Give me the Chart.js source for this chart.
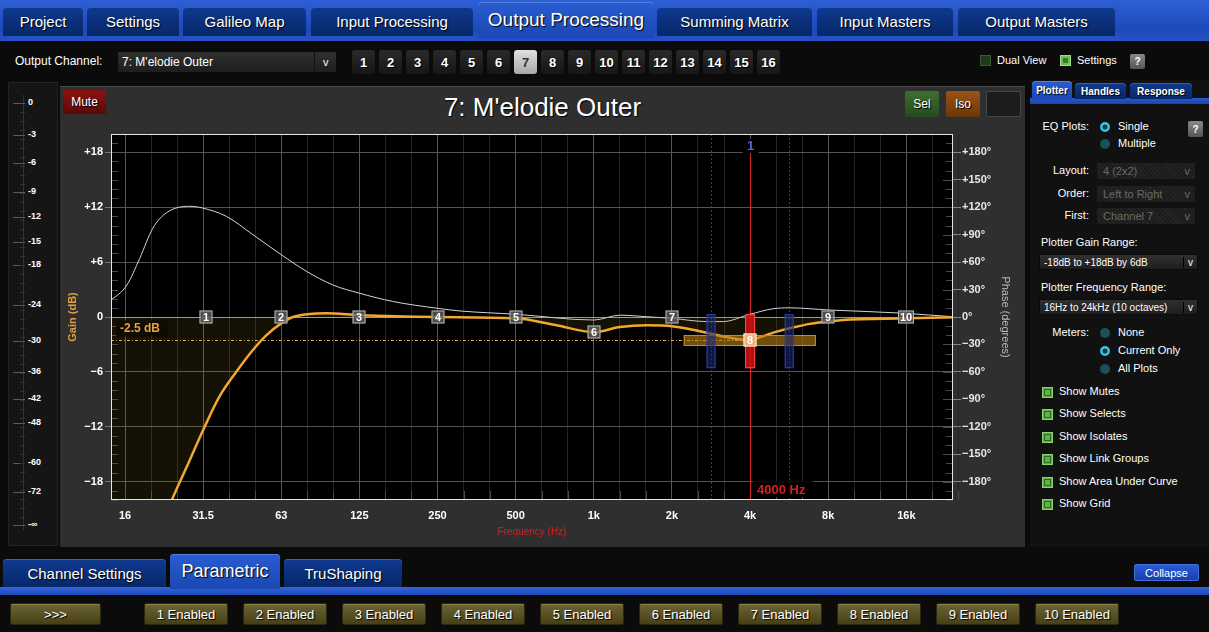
<!DOCTYPE html>
<html>
<head>
<meta charset="utf-8">
<script src="https://cdn.jsdelivr.net/npm/chart.js@4.4.1/dist/chart.umd.min.js"></script>
<style>
body{margin:0;background:#0b0b0b;width:1209px;height:632px;overflow:hidden;position:relative;font-family:'Liberation Sans',Arial,sans-serif;color:#fff}
.c{display:flex;align-items:center;justify-content:center;box-sizing:border-box}
.tab{background:linear-gradient(#0f3a90,#072768);border-radius:4px 4px 0 0;box-shadow:inset 0 1px 0 #2f5fc8;text-shadow:1px 1px 1px #000}
.tabOn{background:linear-gradient(#2a5cd0,#1a48b4);border-radius:4px 4px 0 0;box-shadow:inset 0 1px 0 #5080e0;text-shadow:1px 1px 1px #000}
.num{background:linear-gradient(#2a2a2a,#161616);border-radius:3px;font-size:13px;font-weight:bold;text-shadow:1px 1px 0 #000}
.drop{background:linear-gradient(#303030,#1e1e1e);border:1px solid #0a0a0a;font-size:12px;padding-left:4px;justify-content:flex-start}
.dis{background:repeating-linear-gradient(45deg,#262626 0 1px,#1c1c1c 1px 3px);color:#6a6a6a;font-size:11px;padding-left:6px;justify-content:flex-start}
.lbl{position:absolute;font-size:11px;white-space:nowrap}
.olive{background:linear-gradient(#6c6434,#474016);border:1px solid #2b2810;border-radius:2px;font-size:13px;text-shadow:1px 1px 1px #000;box-shadow:inset 0 1px 0 #8a8248}
</style>
</head>
<body>
<canvas id="eq" width="960" height="425" style="position:absolute;left:62px;top:120px;z-index:2"></canvas>
<script>
// ---- data ----
const gainFreqs = [12, 18, 23.6, 27, 31.2, 36.1, 41.9, 48.6, 54.7, 62.5, 69.3, 80.4, 93.3, 125, 250, 500, 718, 1000, 1260, 1600, 2000, 2410, 2800, 3250, 4000, 4370, 5070, 5840, 6800, 8000, 9110, 16000, 26000];
const gainDb = [-43, -29, -20.1, -16.4, -12.4, -8.7, -6.0, -3.6, -2.0, -0.7, 0, 0.33, 0.4, 0.2, 0, -0.15, -0.9, -1.65, -1.1, -0.9, -1.0, -1.4, -1.8, -2.2, -2.55, -2.2, -1.6, -1.15, -0.75, -0.5, -0.33, -0.15, 0];
const phaseFreqs = [12, 13.8, 15.9, 17.8, 20.0, 22.6, 27.7, 31.2, 38.4, 48.6, 62.5, 78.1, 98.8, 125, 168, 250, 305, 500, 1000, 1260, 1600, 2000, 2720, 3140, 4000, 4900, 5690, 8000, 16000, 24200, 26000];
const phaseDeg = [8, 18.6, 35, 64, 97, 114, 121, 119, 110, 90, 68, 50, 35, 26, 17, 9.5, 6.6, 3, -3.3, 2, 0.3, -1.5, -5, -5, 3, 9, 10, 7.7, 4, 0.3, 0];

const octaveTicks = [15.625, 31.25, 62.5, 125, 250, 500, 1000, 2000, 4000, 8000, 16000];
const octaveLabels = ['16', '31.5', '63', '125', '250', '500', '1k', '2k', '4k', '8k', '16k'];
const gainTicks = [-18, -12, -6, 0, 6, 12, 18];
const phaseTicks = [-180, -150, -120, -90, -60, -30, 0, 30, 60, 90, 120, 150, 180];

const handleFreqs = [32, 62.5, 125, 250, 500, 1000, 2000, 4000, 8000, 16000];
const handleGains = [0, 0, 0, 0, 0, -1.65, 0, -2.5, 0, 0];
const selHandle = 8;
const selFreq = 4000;
const selGain = -2.5;
const bandEdges = [2830, 5660];
const widthBar = [2220, 7170];
const meterRange = [0.3, -5.6];

// 1/3 octave minors between the octave ticks
const xTickValues = [];
octaveTicks.forEach(o => { xTickValues.push(o, o * Math.pow(2, 1/3), o * Math.pow(2, 2/3)); });
const isMajor = v => octaveTicks.some(o => Math.abs(o - v) / o < 1e-6);
const minus = v => v > 0 ? '+' + v : v < 0 ? '\u2212' + Math.abs(v) : '0';

const eqOverlay = {
    id: 'eqOverlay',
    beforeDraw(chart) {
        const {ctx, chartArea: a} = chart;
        ctx.save();
        ctx.fillStyle = '#000';
        ctx.fillRect(a.left, a.top, a.right - a.left, a.bottom - a.top);
        ctx.restore();
    },
    beforeDatasetsDraw(chart) {
        const {ctx, chartArea: a, scales: {x, y, y2}} = chart;
        ctx.save();
        ctx.lineWidth = 1;
        ctx.strokeStyle = '#4a4a4a';
        ctx.beginPath();
        for (let g = -20; g <= 20; g++) {
            if (g % 6 === 0) continue;
            const py = Math.round(y.getPixelForValue(g)) + 0.5;
            ctx.moveTo(a.left, py); ctx.lineTo(a.left + 7, py);
        }
        for (let p = -200; p <= 200; p += 10) {
            const py = Math.round(y2.getPixelForValue(p)) + 0.5;
            const len = p % 30 === 0 ? 10 : 7;
            ctx.moveTo(a.right - len, py); ctx.lineTo(a.right, py);
        }
        xTickValues.forEach(v => {
            if (isMajor(v)) return;
            const px = Math.round(x.getPixelForValue(v)) + 0.5;
            ctx.moveTo(px, a.bottom - 9); ctx.lineTo(px, a.bottom);
        });
        ctx.stroke();

        // bandwidth edges
        ctx.strokeStyle = '#2e3c9c';
        ctx.setLineDash([2, 2]);
        bandEdges.forEach(f => {
            const px = Math.round(x.getPixelForValue(f)) + 0.5;
            ctx.beginPath(); ctx.moveTo(px, a.top); ctx.lineTo(px, a.bottom); ctx.stroke();
        });
        ctx.setLineDash([]);

        // selected frequency cursor
        const sx = Math.round(x.getPixelForValue(selFreq)) + 0.5;
        ctx.strokeStyle = '#d42a2a';
        ctx.beginPath(); ctx.moveTo(sx, a.top + 18); ctx.lineTo(sx, a.bottom); ctx.stroke();
        ctx.fillStyle = '#000';
        ctx.fillRect(sx - 8, a.top + 5, 16, 14);
        ctx.fillStyle = '#5566dd';
        ctx.font = 'bold 13px "Liberation Sans"';
        ctx.textAlign = 'center'; ctx.textBaseline = 'middle';
        ctx.fillText('1', sx, a.top + 12);
        ctx.restore();
    },
    afterDatasetsDraw(chart) {
        const {ctx, chartArea: a, scales: {x, y}} = chart;
        ctx.save();
        const sx = x.getPixelForValue(selFreq);
        const gy = Math.round(y.getPixelForValue(selGain)) + 0.5;

        // level line
        ctx.strokeStyle = 'rgba(240,180,110,0.9)';
        ctx.setLineDash([3, 2, 1, 2]);
        ctx.beginPath(); ctx.moveTo(a.left, gy); ctx.lineTo(sx, gy); ctx.stroke();
        ctx.setLineDash([]);

        // width bar
        const wx0 = x.getPixelForValue(widthBar[0]), wx1 = x.getPixelForValue(widthBar[1]);
        ctx.fillStyle = 'rgba(190,130,20,0.6)';
        ctx.strokeStyle = '#c88a28';
        ctx.fillRect(wx0, gy - 5.5, wx1 - wx0, 11);
        ctx.strokeRect(wx0 + 0.5, gy - 5, wx1 - wx0 - 1, 10);

        // meter bars
        const my0 = y.getPixelForValue(meterRange[0]), my1 = y.getPixelForValue(meterRange[1]);
        bandEdges.forEach(f => {
            const px = x.getPixelForValue(f);
            ctx.fillStyle = 'rgba(22,36,115,0.6)';
            ctx.strokeStyle = '#2e44a8';
            ctx.fillRect(px - 4.5, my0, 9, my1 - my0);
            ctx.strokeRect(px - 4, my0 + 0.5, 8, my1 - my0 - 1);
        });
        ctx.fillStyle = 'rgba(200,18,18,0.88)';
        ctx.strokeStyle = '#ff4a4a';
        ctx.fillRect(sx - 5, my0, 10, my1 - my0);
        ctx.strokeRect(sx - 4.5, my0 + 0.5, 9, my1 - my0 - 1);

        // handles
        ctx.font = 'bold 11px "Liberation Sans"';
        ctx.textAlign = 'center'; ctx.textBaseline = 'middle';
        handleFreqs.forEach((f, i) => {
            const n = i + 1;
            const px = Math.round(x.getPixelForValue(f));
            const py = Math.round(y.getPixelForValue(handleGains[i]));
            const w = n >= 10 ? 16 : 13;
            ctx.fillStyle = n === selHandle ? 'rgba(240,185,130,0.95)' : 'rgba(95,95,95,0.8)';
            ctx.strokeStyle = n === selHandle ? '#fff0e0' : 'rgba(200,200,200,0.85)';
            ctx.fillRect(px - w / 2, py - 6.5, w, 13);
            ctx.strokeRect(px - w / 2 + 0.5, py - 6, w - 1, 12);
            ctx.fillStyle = '#fff';
            ctx.fillText(String(n), px, py + 0.5);
        });

        // gain readout
        ctx.fillStyle = 'rgba(14,11,3,0.92)';
        ctx.fillRect(a.left + 5, gy - 20, 52, 16);
        ctx.fillStyle = '#e8a040';
        ctx.font = 'bold 12px "Liberation Sans"';
        ctx.textAlign = 'left';
        ctx.fillText('-2.5 dB', a.left + 9, gy - 12);

        // frequency readout
        ctx.fillStyle = 'rgba(0,0,0,0.85)';
        ctx.fillRect(sx + 3, a.bottom - 19, 60, 16);
        ctx.fillStyle = '#d42020';
        ctx.font = 'bold 13px "Liberation Sans"';
        ctx.fillText(selFreq + ' Hz', sx + 7, a.bottom - 10);

        // frame
        ctx.strokeStyle = '#e6e6e6';
        ctx.strokeRect(a.left + 0.5, a.top + 0.5, a.right - a.left - 1, a.bottom - a.top - 1);
        ctx.restore();
    }
};

new Chart(document.getElementById('eq'), {
    type: 'line',
    data: {
        datasets: [
            {
                label: 'Gain',
                data: gainFreqs.map((f, i) => ({x: f, y: gainDb[i]})),
                yAxisID: 'y',
                borderColor: '#f0a830',
                borderWidth: 2.5,
                backgroundColor: 'rgba(150,120,30,0.14)',
                fill: 'origin',
                pointRadius: 0,
                cubicInterpolationMode: 'monotone'
            },
            {
                label: 'Phase',
                data: phaseFreqs.map((f, i) => ({x: f, y: phaseDeg[i]})),
                yAxisID: 'y2',
                borderColor: '#d6d6d6',
                borderWidth: 1,
                fill: false,
                pointRadius: 0,
                cubicInterpolationMode: 'monotone'
            }
        ]
    },
    options: {
        responsive: false,
        animation: false,
        events: [],
        layout: {padding: {top: 14, left: 0, right: 0, bottom: 0}},
        plugins: {legend: {display: false}, tooltip: {enabled: false}},
        scales: {
            x: {
                type: 'logarithmic',
                min: 13.8,
                max: 24200,
                afterBuildTicks: s => { s.ticks = xTickValues.map(v => ({value: v})); },
                afterFit: s => { s.height = 45; },
                border: {display: false},
                grid: {
                    color: c => c.tick && isMajor(c.tick.value) ? '#575757' : '#242424',
                    drawTicks: false
                },
                ticks: {
                    autoSkip: false,
                    maxRotation: 0,
                    padding: 9,
                    color: '#fff',
                    font: {family: 'Liberation Sans', size: 11, weight: 'bold'},
                    callback: v => {
                        const i = octaveTicks.findIndex(o => Math.abs(o - v) / o < 1e-6);
                        return i >= 0 ? octaveLabels[i] : '';
                    }
                },
                title: {
                    display: true,
                    text: 'Frequency (Hz)',
                    color: '#d42020',
                    font: {family: 'Liberation Sans', size: 10},
                    padding: {top: 0, bottom: 7}
                }
            },
            y: {
                position: 'left',
                min: -20,
                max: 20,
                afterBuildTicks: s => { s.ticks = gainTicks.map(v => ({value: v})); },
                afterFit: s => { s.width = 49; },
                border: {display: false},
                grid: {
                    color: c => c.tick && c.tick.value === 0 ? 'rgba(235,205,160,0.75)' : '#555',
                    tickColor: '#777',
                    tickLength: 6
                },
                ticks: {
                    padding: 2,
                    color: '#fff',
                    font: {family: 'Liberation Sans', size: 11, weight: 'bold'},
                    callback: v => minus(v)
                },
                title: {
                    display: true,
                    text: 'Gain (dB)',
                    color: '#e0a040',
                    font: {family: 'Liberation Sans', size: 11, weight: 'bold'},
                    padding: {top: 4, bottom: 0}
                }
            },
            y2: {
                position: 'right',
                min: -200,
                max: 200,
                afterBuildTicks: s => { s.ticks = phaseTicks.map(v => ({value: v})); },
                afterFit: s => { s.width = 69; },
                border: {display: false},
                grid: {drawOnChartArea: false, tickColor: '#888', tickLength: 8},
                ticks: {
                    padding: 1,
                    color: '#e8e8e8',
                    font: {family: 'Liberation Sans', size: 11, weight: 'bold'},
                    callback: v => minus(v) + '\u00b0'
                },
                title: {
                    display: true,
                    text: 'Phase (degrees)',
                    color: '#b8b8b8',
                    font: {family: 'Liberation Sans', size: 11},
                    padding: {top: 10, bottom: 0}
                }
            }
        }
    },
    plugins: [eqOverlay]
});

// ---- surrounding app chrome ----
function box(x, y, w, h, cls, css, html) {
    const d = document.createElement('div');
    d.className = 'c ' + (cls || '');
    d.style.cssText = `position:absolute;left:${x}px;top:${y}px;width:${w}px;height:${h}px;` + (css || '');
    if (html != null) d.innerHTML = html;
    document.body.appendChild(d);
    return d;
}
function lbl(x, y, s, css) {
    const d = document.createElement('div');
    d.className = 'lbl';
    d.style.cssText = `left:${x}px;top:${y - 7}px;` + (css || '');
    d.textContent = s;
    document.body.appendChild(d);
    return d;
}

// top tab bar
box(0, 0, 1209, 41, '', 'background:linear-gradient(#2e5fd6,#1c4ab8 70%,#2752c8);');
const topTabs = [['Project', 3, 83], ['Settings', 87, 179], ['Galileo Map', 183, 306], ['Input Processing', 311, 473],
    ['Summing Matrix', 657, 812], ['Input Masters', 817, 953], ['Output Masters', 958, 1115]];
topTabs.forEach(t => box(t[1], 7, t[2] - t[1], 29, 'tab', 'font-size:15px;', t[0]));
box(478, 2, 176, 36, 'tabOn', 'font-size:19px;', 'Output Processing');

// channel row
lbl(15, 61, 'Output Channel:', 'font-size:12px;');
box(117, 51, 220, 22, 'drop', '', "7: M'elodie Outer<span style='position:absolute;left:196px;top:0;height:20px;border-left:1px solid #111;padding-left:8px;line-height:20px;font-size:11px'>v</span>");
for (let i = 1; i <= 16; i++) {
    const x = 352 + (i - 1) * 27;
    box(x, 50, 23, 24, 'num', i === 7 ? 'background:linear-gradient(#e0e0e0,#a8a8a8);color:#333;text-shadow:none;' : '', String(i));
}
box(980, 55, 11, 11, '', 'background:#1f3a18;border:1px solid #3a5a30;');
lbl(997, 61, 'Dual View', 'font-size:11px;');
box(1060, 55, 11, 11, '', 'background:#6cbf52;border:1px solid #9ae080;', "<div style='width:5px;height:5px;background:#3a7a2a'></div>");
lbl(1077, 61, 'Settings', 'font-size:11px;');
box(1130, 54, 15, 15, '', 'background:linear-gradient(#888,#555);font-size:10px;font-weight:bold;border-radius:2px;', '?');

// chart panel
box(60, 86, 965, 461, '', 'background:#2f2f2f;border-top:1px solid #4a4a4a;');
box(60, 95, 965, 25, '', 'font-size:26px;text-shadow:1px 1px 1px #000;', "7: M'elodie Outer");
box(63, 90, 43, 24, '', 'background:linear-gradient(#8c1212,#5c0808);border-radius:2px;font-size:12px;text-shadow:1px 1px 0 #000;', 'Mute');
box(905, 91, 34, 26, '', 'background:linear-gradient(#3d7030,#264a1c);border-radius:2px;font-size:12px;text-shadow:1px 1px 0 #000;', 'Sel');
box(946, 91, 34, 26, '', 'background:linear-gradient(#9a5418,#6a3808);border-radius:2px;font-size:12px;text-shadow:1px 1px 0 #000;', 'Iso');
box(986, 91, 35, 26, '', 'background:#1c1c1c;border:1px solid #484848;border-radius:2px;');

// left meter strip
box(8, 82, 50, 464, '', 'background:#151515;border:1px solid #222;');
box(23, 95, 1, 435, '', 'background:#333;');
const meterMarks = [['0', 103], ['-3', 135], ['-6', 163], ['-9', 192], ['-12', 217], ['-15', 242], ['-18', 265], ['-24', 305],
    ['-30', 341], ['-36', 372], ['-42', 399], ['-48', 423], ['-60', 463], ['-72', 492], ['-\u221e', 525]];
meterMarks.forEach(m => {
    box(13, m[1], 12, 1, '', 'background:#5a5a5a;');
    lbl(28, m[1] + 1, m[0], 'font-size:9px;font-weight:bold;');
});
for (let yy = 112; yy < 522; yy += 9) box(20, yy, 5, 1, '', 'background:#333;');

// right settings panel
box(1030, 80, 179, 467, '', 'background:#111;');
box(1030, 98, 179, 6, '', 'background:linear-gradient(#2a5ad2,#1a44a8);');
box(1032, 81, 40, 19, 'tabOn', 'font-size:10px;font-weight:bold;', 'Plotter');
box(1075, 83, 51, 16, 'tab', 'font-size:10px;font-weight:bold;', 'Handles');
box(1130, 83, 62, 16, 'tab', 'font-size:10px;font-weight:bold;', 'Response');
const radio = on => on ? 'background:radial-gradient(#0d3a44 30%,#36c0e0 40%);border-radius:50%;' : 'background:#1a5058;border-radius:50%;';
lbl(1042, 127, 'EQ Plots:', 'font-size:11px;width:47px;text-align:right;');
box(1100, 122, 10, 10, '', radio(true)); lbl(1118, 127, 'Single');
box(1100, 139, 10, 10, '', radio(false)); lbl(1118, 144, 'Multiple');
box(1188, 121, 15, 16, '', 'background:linear-gradient(#888,#555);font-size:10px;font-weight:bold;border-radius:2px;', '?');
[['Layout:', 171, '4 (2x2)'], ['Order:', 194, 'Left to Right'], ['First:', 216, 'Channel 7']].forEach(r => {
    lbl(1030, r[1], r[0], 'font-size:11px;width:59px;text-align:right;');
    box(1097, r[1] - 8, 98, 16, 'dis', '', r[2] + "<span style='position:absolute;right:5px'>v</span>");
});
lbl(1041, 243, 'Plotter Gain Range:');
box(1039, 254, 159, 16, 'drop', 'font-size:10px;', "-18dB to +18dB by 6dB<span style='position:absolute;right:4px;border-left:1px solid #000;padding-left:4px'>v</span>");
lbl(1041, 288, 'Plotter Frequency Range:');
box(1039, 299, 159, 16, 'drop', 'font-size:10px;', "16Hz to 24kHz (10 octaves)<span style='position:absolute;right:4px;border-left:1px solid #000;padding-left:4px'>v</span>");
lbl(1042, 333, 'Meters:', 'font-size:11px;width:47px;text-align:right;');
[['None', 333, false], ['Current Only', 351, true], ['All Plots', 369, false]].forEach(r => {
    box(1100, r[1] - 5, 10, 10, '', radio(r[2])); lbl(1118, r[1], r[0]);
});
['Show Mutes', 'Show Selects', 'Show Isolates', 'Show Link Groups', 'Show Area Under Curve', 'Show Grid'].forEach((s, i) => {
    const yy = [392, 414, 437, 459, 482, 504][i];
    box(1042, yy - 5, 11, 11, '', 'background:#62b04c;border:1px solid #8ad070;', "<div style='width:5px;height:5px;border:1px solid #2e6a22'></div>");
    lbl(1059, yy, s);
});

// bottom tabs and buttons
box(0, 587, 1209, 8, '', 'background:linear-gradient(#3464dc,#1d48b8);');
box(3, 559, 163, 28, 'tab', 'font-size:15px;', 'Channel Settings');
box(170, 554, 110, 35, 'tabOn', 'font-size:18px;', 'Parametric');
box(284, 559, 118, 28, 'tab', 'font-size:15px;', 'TruShaping');
box(1134, 564, 65, 17, '', 'background:linear-gradient(#2a5ad8,#1a40a8);border:1px solid #4070e0;border-radius:2px;font-size:11px;', 'Collapse');
box(10, 603, 91, 22, 'olive', '', '&gt;&gt;&gt;');
for (let i = 1; i <= 10; i++) {
    box(144 + (i - 1) * 99, 603, 84, 22, 'olive', '', i + ' Enabled');
}
</script>
</body>
</html>
